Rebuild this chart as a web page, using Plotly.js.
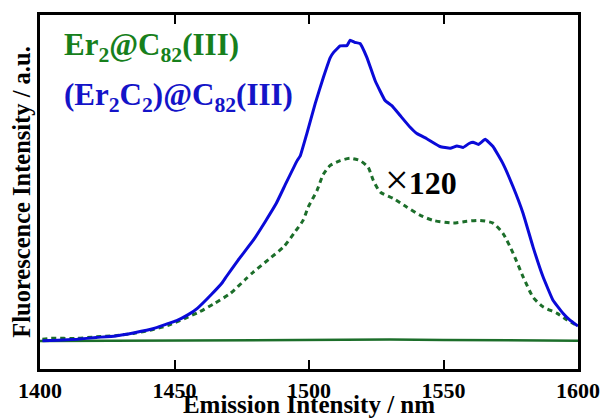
<!DOCTYPE html>
<html><head><meta charset="utf-8">
<script src="https://cdn.plot.ly/plotly-3.0.1.min.js"></script>
<style>html,body{margin:0;padding:0;background:#fff}#chart{width:601px;height:418px}</style>
</head><body><div id="chart"></div>
<script>
// (Er2C2)@C82(III) emission, solid blue
const wlBlue = [1400.9,1406.7,1413.8,1420.9,1428.0,1435.1,1442.3,1446.5,1450.8,1455.1,1458.6,1463.7,1467.8,1469.3,1473.6,1479.3,1483.6,1487.8,1491.4,1495.6,1496.8,1499.2,1502.3,1505.3,1507.9,1509.0,1511.6,1514.1,1515.3,1517.0,1519.0,1521.5,1524.6,1528.3,1530.8,1533.9,1537.6,1540.1,1543.8,1548.7,1552.5,1555.0,1557.3,1559.5,1561.0,1563.0,1565.5,1568.4,1572.1,1575.9,1579.6,1583.3,1587.0,1590.7,1594.4,1597.0,1600.0];
const intBlue = [0.001,0.003,0.006,0.012,0.017,0.028,0.042,0.055,0.068,0.088,0.110,0.155,0.195,0.215,0.269,0.336,0.396,0.458,0.525,0.601,0.618,0.691,0.791,0.877,0.944,0.960,0.983,0.984,1.002,0.995,0.991,0.945,0.867,0.801,0.784,0.751,0.712,0.691,0.674,0.648,0.642,0.650,0.645,0.658,0.662,0.655,0.672,0.648,0.591,0.513,0.425,0.313,0.214,0.136,0.093,0.070,0.050];
// Er2@C82(III) emission x120, dotted green
const wlGreenX120 = [1400.9,1403.8,1413.8,1420.9,1428.0,1435.1,1442.3,1447.9,1453.7,1459.2,1465.0,1470.8,1476.3,1479.3,1485.0,1490.7,1494.9,1497.8,1499.7,1503.0,1505.3,1507.9,1511.6,1515.3,1519.0,1522.0,1523.9,1526.5,1531.3,1536.4,1541.3,1546.1,1553.6,1558.7,1563.6,1568.4,1572.1,1575.9,1579.6,1583.3,1587.0,1592.1,1596.0,1600.0];
const intGreenX120 = [0.006,0.009,0.009,0.014,0.018,0.026,0.039,0.053,0.075,0.097,0.126,0.159,0.205,0.230,0.272,0.315,0.365,0.402,0.446,0.502,0.555,0.585,0.601,0.609,0.601,0.579,0.535,0.496,0.475,0.446,0.419,0.402,0.393,0.399,0.402,0.393,0.359,0.292,0.214,0.146,0.114,0.093,0.070,0.050];
// Er2@C82(III) emission, raw, solid green
const wlGreen = [1400,1425,1450,1475,1500,1515,1530,1550,1575,1600];
const intGreen = [0.000,0.001,0.002,0.003,0.004,0.006,0.005,0.004,0.003,0.001];
const xTicks = [1400,1450,1500,1550,1600];
const labelEr2 = 'Er<sub>2</sub>@C<sub>82</sub>(III)';
const labelEr2C2 = '(Er<sub>2</sub>C<sub>2</sub>)@C<sub>82</sub>(III)';
const labelScaleSign = '×';
const labelScaleValue = '120';

const serif = 'Liberation Serif, Times New Roman, serif';
const traces = [
  {x: wlGreen, y: intGreen, mode:'lines', line:{color:'#1c6e2a', width:2.5}, hoverinfo:'skip'},
  {x: wlGreenX120, y: intGreenX120, mode:'lines', line:{color:'#1c6e2a', width:3, dash:'5px,4px', shape:'spline', smoothing:0.6}, hoverinfo:'skip'},
  {x: wlBlue, y: intBlue, mode:'lines', line:{color:'#0a0ad8', width:3, shape:'spline', smoothing:0.3}, hoverinfo:'skip'}
];
const layout = {
  width:601, height:418,
  margin:{l:40, r:23, t:15, b:49},
  paper_bgcolor:'#fff', plot_bgcolor:'#fff',
  showlegend:false,
  font:{family:serif, color:'#000'},
  xaxis:{range:[1400,1600], tickvals:xTicks, ticktext:xTicks.map(String),
    ticks:'inside', ticklen:9, tickwidth:2, tickcolor:'#000',
    showline:true, linewidth:3, linecolor:'#000', mirror:'ticks',
    showgrid:false, zeroline:false,
    tickfont:{family:serif, size:22, weight:'bold'},
    title:{text:'<b>Emission Intensity / nm</b>', font:{family:serif, size:25}, standoff:0}},
  yaxis:{range:[-0.093,1.086], showticklabels:false, ticks:'',
    showline:true, linewidth:3, linecolor:'#000', mirror:true,
    showgrid:false, zeroline:false,
    title:{text:'<b>Fluorescence Intensity / a.u.</b>', font:{family:serif, size:24.5}, standoff:0}},
  annotations:[
    {xref:'paper', yref:'paper', x:0.040, y:(369-47)/354, xanchor:'left', yanchor:'middle', showarrow:false,
     text:'<b>'+labelEr2+'</b>', font:{family:serif, size:31, color:'#17801c'}},
    {xref:'paper', yref:'paper', x:0.040, y:(369-97)/354, xanchor:'left', yanchor:'middle', showarrow:false,
     text:'<b>'+labelEr2C2+'</b>', font:{family:serif, size:31, color:'#1414c8'}},
    {xref:'x', yref:'y', x:1527.6, y:0.535, xanchor:'left', yanchor:'middle', showarrow:false,
     text:'<span style="font-size:42px;font-weight:normal">'+labelScaleSign+'</span><b>'+labelScaleValue+'</b>', font:{family:serif, size:32, color:'#000'}}
  ]
};
Plotly.newPlot('chart', traces, layout, {staticPlot:true, displayModeBar:false});
</script></body></html>
